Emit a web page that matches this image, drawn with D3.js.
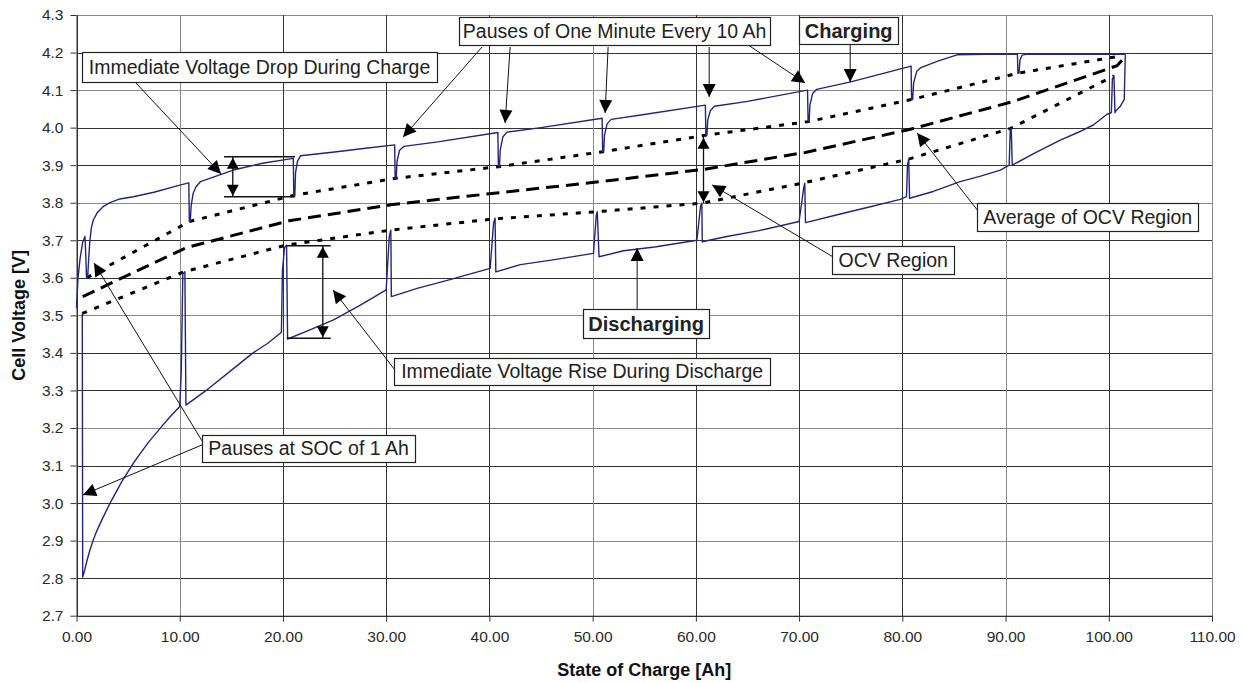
<!DOCTYPE html>
<html>
<head>
<meta charset="utf-8">
<script src="https://cdn.jsdelivr.net/npm/d3@7"></script>
<style>
  body { margin: 0; background: #fff; }
  svg { display: block; font-family: "Liberation Sans", Arial, sans-serif; }
</style>
</head>
<body>
<div id="chart"></div>
<script>
// -------------------- Data --------------------
const xTicks = d3.range(0, 111, 10);
const yTicks = d3.range(27, 44).map(d => d / 10);

// charge curve [Ah, V] in drawing order (downward spikes = one minute pauses)
const chargeCurve = [
  [0.0, 3.52], [0.15, 3.60], [0.34, 3.65], [0.6, 3.695], [0.82, 3.71], [0.9, 3.66], [0.97, 3.60],
  [1.08, 3.60], [1.2, 3.66], [1.3, 3.70], [1.45, 3.735], [1.63, 3.754], [2.0, 3.773], [2.6, 3.79], [3.25, 3.80],
  [4.2, 3.81], [5.5, 3.816], [7.5, 3.828], [10.0, 3.847], [10.88, 3.853],
  [10.93, 3.75], [11.02, 3.75], [11.1, 3.79], [11.3, 3.825], [11.6, 3.843], [12.0, 3.856],
  [15.2, 3.887], [18, 3.905], [21.0, 3.918],
  [21.05, 3.82], [21.15, 3.82], [21.22, 3.88], [21.4, 3.91], [21.7, 3.925], [25, 3.935], [28, 3.945], [30.82, 3.954],
  [30.87, 3.865], [30.97, 3.865], [31.05, 3.91], [31.3, 3.94], [31.7, 3.95], [35, 3.962], [40.82, 3.987],
  [40.87, 3.896], [40.97, 3.896], [41.05, 3.94], [41.3, 3.975], [41.7, 3.988], [45, 4.0], [50.92, 4.025],
  [50.97, 3.936], [51.07, 3.936], [51.15, 3.98], [51.4, 4.01], [51.8, 4.022], [55, 4.035], [60.92, 4.06],
  [60.97, 3.98], [61.07, 3.98], [61.15, 4.02], [61.4, 4.045], [61.8, 4.057], [65, 4.07], [70.82, 4.1],
  [70.87, 4.016], [70.97, 4.016], [71.05, 4.06], [71.3, 4.09], [71.7, 4.102], [75, 4.122], [80.85, 4.164],
  [80.9, 4.075], [81.0, 4.075], [81.1, 4.12], [81.4, 4.15], [81.8, 4.16], [83.5, 4.178], [85.3, 4.194],
  [88, 4.195], [91.15, 4.195],
  [91.2, 4.145], [91.3, 4.145], [91.4, 4.18], [91.6, 4.193], [92, 4.195], [101.6, 4.195]
];

// discharge curve [Ah, V] in drawing order, from full back to empty (upward spikes = pauses)
const dischargeCurve = [
  [101.6, 4.195], [101.5, 4.075], [101.1, 4.056], [100.7, 4.045], [100.6, 4.04],
  [100.5, 4.138], [100.35, 4.13], [100.25, 4.04], [99.8, 4.035], [98.5, 4.007], [97, 3.987],
  [95.3, 3.967], [93, 3.935], [90.65, 3.90],
  [90.55, 3.998], [90.45, 3.99], [90.35, 3.90], [89.5, 3.887], [87.5, 3.87], [85.6, 3.856], [83, 3.83], [80.7, 3.812],
  [80.62, 3.916], [80.5, 3.90], [80.4, 3.816], [79.8, 3.809], [77, 3.79], [74, 3.77], [70.62, 3.747],
  [70.55, 3.852], [70.45, 3.84], [70.0, 3.75], [66, 3.725], [63, 3.71], [60.62, 3.696],
  [60.58, 3.799], [60.45, 3.79], [60.1, 3.70], [56, 3.682], [53, 3.672], [50.62, 3.656],
  [50.45, 3.776], [50.35, 3.765], [50.08, 3.665], [46, 3.647], [43, 3.635], [40.62, 3.616],
  [40.55, 3.759], [40.4, 3.745], [40.07, 3.625], [36, 3.594], [33, 3.572], [30.5, 3.55],
  [30.45, 3.727], [30.3, 3.71], [30.0, 3.568], [27.5, 3.527], [24.9, 3.488], [22.5, 3.46], [20.45, 3.437],
  [20.35, 3.687], [20.15, 3.68], [19.95, 3.62], [19.85, 3.455], [18.5, 3.425], [17.1, 3.40], [15.2, 3.358],
  [12.8, 3.305], [10.6, 3.261],
  [10.5, 3.616], [10.3, 3.61], [10.15, 3.35], [10.0, 3.257], [9.0, 3.228], [8.1, 3.199], [7.0, 3.163],
  [6.2, 3.133], [5.5, 3.106], [4.4, 3.058], [3.25, 3.0], [2.4, 2.952], [2.0, 2.928], [1.63, 2.902],
  [1.3, 2.875], [1.0, 2.845], [0.8, 2.822], [0.6, 2.803],
  [0.56, 3.505]
];

// OCV region bounds and their average
const ocvUpper = [
  [1.0, 3.60], [10.95, 3.75], [21.1, 3.82], [30.9, 3.865], [40.9, 3.896], [51.0, 3.936],
  [61.0, 3.98], [70.9, 4.016], [80.9, 4.075], [91.2, 4.145], [101.0, 4.19]
];
const ocvLower = [
  [0.56, 3.505], [10.4, 3.616], [20.3, 3.687], [30.4, 3.727], [40.5, 3.757], [50.4, 3.776],
  [60.6, 3.799], [70.3, 3.852], [80.6, 3.916], [90.5, 3.998], [100.5, 4.138]
];
const ocvAverage = [
  [0.6, 3.55], [10.6, 3.68], [20.6, 3.752], [30.6, 3.795], [40.7, 3.826], [50.7, 3.856],
  [60.8, 3.889], [70.6, 3.934], [80.7, 3.995], [90.8, 4.07], [100.8, 4.165], [101.3, 4.18]
];

// -------------------- Annotations (data coordinates) --------------------
const labels = [
  { text: "Immediate Voltage Drop During Charge", box: [0.53, 4.2015, 34.93, 4.1216] },
  { text: "Pauses of One Minute Every 10 Ah", box: [37.06, 4.2947, 67.2, 4.2201] },
  { text: "Charging", bold: true, box: [70.01, 4.2947, 79.6, 4.2228] },
  { text: "Average of OCV Region", box: [87.26, 3.7993, 108.67, 3.7248] },
  { text: "OCV Region", box: [73.21, 3.6848, 85.03, 3.6103] },
  { text: "Discharging", bold: true, box: [49.08, 3.517, 61.29, 3.4398] },
  { text: "Immediate Voltage Rise During Discharge", box: [30.77, 3.3866, 67.2, 3.3147] },
  { text: "Pauses at SOC of 1 Ah", box: [12.16, 3.1815, 32.8, 3.1096] }
];

const arrows = [
  { from: [5.67, 4.1216], to: [14.0, 3.8766] },
  { from: [39.29, 4.2148], to: [31.64, 3.9751] },
  { from: [42.01, 4.2148], to: [41.52, 4.0124] },
  { from: [51.5, 4.2148], to: [51.21, 4.039] },
  { from: [61.29, 4.2148], to: [61.29, 4.0816] },
  { from: [65.07, 4.2201], to: [70.59, 4.1189] },
  { from: [74.95, 4.2228], to: [74.95, 4.1216] },
  { from: [54.31, 3.517], to: [54.31, 3.6795] },
  { from: [73.3, 3.6555], to: [61.58, 3.8473] },
  { from: [87.26, 3.7807], to: [81.44, 3.9858] },
  { from: [30.77, 3.3573], to: [24.85, 3.5676] },
  { from: [12.16, 3.1549], to: [0.63, 3.0217] },
  { from: [12.16, 3.1655], to: [1.7, 3.6395] }
];

// measurement brackets: [ah0, ah1] horizontal extent, [vTop, vBottom], arrow at ahArrow
const brackets = [
  { ah: [14.29, 21.17], v: [3.9226, 3.8161], ahArrow: 15.14, lines: true },
  { ah: [20.37, 24.63], v: [3.6856, 3.439], ahArrow: 23.86, lines: true },
  { ah: [60.74, 60.74], v: [3.976, 3.7985], ahArrow: 60.74, lines: false }
];

// -------------------- SVG --------------------
const width = 1244, height = 683;
const svg = d3.select("#chart").append("svg")
  .attr("width", width)
  .attr("height", height);

const x = d3.scaleLinear().domain([0, 110]).range([76.5, 1212]);
const y = d3.scaleLinear().domain([2.7, 4.3]).range([615.7, 15]);

// grid
const grid = svg.append("g").attr("stroke-width", 1).attr("shape-rendering", "crispEdges");
grid.selectAll("line.h").data(yTicks).join("line").attr("class", "h")
  .attr("x1", x(0)).attr("x2", x(110))
  .attr("y1", d => Math.round(y(d)) + 0.5).attr("y2", d => Math.round(y(d)) + 0.5)
  .attr("stroke", (d, i) => (i === yTicks.length - 1 || i % 3 === 2) ? "#8a8a8a" : "#333");
grid.selectAll("line.v").data(xTicks).join("line").attr("class", "v")
  .attr("y1", y(2.7)).attr("y2", y(4.3))
  .attr("x1", d => Math.round(x(d)) + 0.5).attr("x2", d => Math.round(x(d)) + 0.5)
  .attr("stroke", (d, i) => (i === xTicks.length - 1 || i % 4 === 1) ? "#8a8a8a" : "#333");

// axes
const xAxis = d3.axisBottom(x).tickValues(xTicks).tickFormat(d3.format(".2f")).tickSize(6).tickSizeOuter(0);
const yAxis = d3.axisLeft(y).tickValues(yTicks).tickFormat(d3.format(".1f")).tickSize(6).tickSizeOuter(0);

const gx = svg.append("g").attr("transform", `translate(0,${y(2.7)})`).call(xAxis);
const gy = svg.append("g").attr("transform", `translate(${x(0)},0)`).call(yAxis);
[gx, gy].forEach(g => {
  g.select(".domain").attr("stroke", "#333");
  g.selectAll(".tick line").attr("stroke", "#333");
  g.selectAll("text")
    .attr("fill", "#2a2a2a")
    .style("font-family", "'Liberation Sans', Arial, sans-serif")
    .style("font-size", "15.5px");
});
gx.selectAll("text").attr("dy", "1.1em");
gy.selectAll("text").attr("dx", "-4px");

svg.append("text")
  .attr("x", (x(0) + x(110)) / 2)
  .attr("y", 676)
  .attr("text-anchor", "middle")
  .style("font-weight", "bold")
  .style("font-size", "18px")
  .attr("fill", "#111")
  .text("State of Charge [Ah]");

svg.append("text")
  .attr("transform", `translate(25,${(y(2.7) + y(4.3)) / 2}) rotate(-90)`)
  .attr("text-anchor", "middle")
  .style("font-weight", "bold")
  .style("font-size", "18px")
  .attr("fill", "#111")
  .text("Cell Voltage [V]");

// -------------------- Lines --------------------
const line = d3.line().x(d => x(d[0])).y(d => y(d[1]));

svg.append("path").datum(ocvUpper)
  .attr("fill", "none").attr("stroke", "#000").attr("stroke-width", 3)
  .attr("stroke-dasharray", "5,8").attr("d", line);
svg.append("path").datum(ocvLower)
  .attr("fill", "none").attr("stroke", "#000").attr("stroke-width", 3)
  .attr("stroke-dasharray", "5,8").attr("d", line);
svg.append("path").datum(ocvAverage)
  .attr("fill", "none").attr("stroke", "#000").attr("stroke-width", 3)
  .attr("stroke-dasharray", "13,7").attr("d", line);

svg.append("path").datum(chargeCurve)
  .attr("fill", "none").attr("stroke", "#24247e").attr("stroke-width", 1.4)
  .attr("stroke-linejoin", "round").attr("d", line);
svg.append("path").datum(dischargeCurve)
  .attr("fill", "none").attr("stroke", "#24247e").attr("stroke-width", 1.4)
  .attr("stroke-linejoin", "round").attr("d", line);

// -------------------- Arrows --------------------
function arrowHead(g, x1, y1, x2, y2, len, half) {
  const a = Math.atan2(y2 - y1, x2 - x1);
  const bx = x2 - len * Math.cos(a), by = y2 - len * Math.sin(a);
  const px = -Math.sin(a) * half, py = Math.cos(a) * half;
  g.append("path")
    .attr("d", `M${x2},${y2}L${bx + px},${by + py}L${bx - px},${by - py}Z`)
    .attr("fill", "#000");
}

const ann = svg.append("g");
arrows.forEach(a => {
  const x1 = x(a.from[0]), y1 = y(a.from[1]), x2 = x(a.to[0]), y2 = y(a.to[1]);
  ann.append("line").attr("x1", x1).attr("y1", y1).attr("x2", x2).attr("y2", y2)
    .attr("stroke", "#111").attr("stroke-width", 1);
  arrowHead(ann, x1, y1, x2, y2, 13, 6.5);
});

brackets.forEach(b => {
  if (b.lines) {
    b.v.forEach(v => {
      ann.append("line")
        .attr("x1", x(b.ah[0])).attr("x2", x(b.ah[1]))
        .attr("y1", y(v)).attr("y2", y(v))
        .attr("stroke", "#111").attr("stroke-width", 1.5);
    });
  }
  const ax = x(b.ahArrow), yt = y(b.v[0]), yb = y(b.v[1]);
  ann.append("line").attr("x1", ax).attr("x2", ax).attr("y1", yt).attr("y2", yb)
    .attr("stroke", "#111").attr("stroke-width", 1.3);
  arrowHead(ann, ax, yb, ax, yt + 1, 11, 6);
  arrowHead(ann, ax, yt, ax, yb - 1, 11, 6);
});

// -------------------- Labels --------------------
labels.forEach(l => {
  const x0 = x(l.box[0]), y0 = y(l.box[1]), x1 = x(l.box[2]), y1 = y(l.box[3]);
  ann.append("rect")
    .attr("x", Math.round(x0) + 0.5).attr("y", Math.round(y0) + 0.5)
    .attr("width", Math.round(x1 - x0)).attr("height", Math.round(y1 - y0))
    .attr("fill", "#fff").attr("stroke", "#222").attr("stroke-width", 1.2);
  ann.append("text")
    .attr("x", (x0 + x1) / 2)
    .attr("y", (y0 + y1) / 2)
    .attr("dy", "0.36em")
    .attr("text-anchor", "middle")
    .style("font-size", l.bold ? "20px" : "19.5px")
    .style("font-weight", l.bold ? "bold" : "normal")
    .attr("fill", "#222")
    .text(l.text);
});
</script>
</body>
</html>
